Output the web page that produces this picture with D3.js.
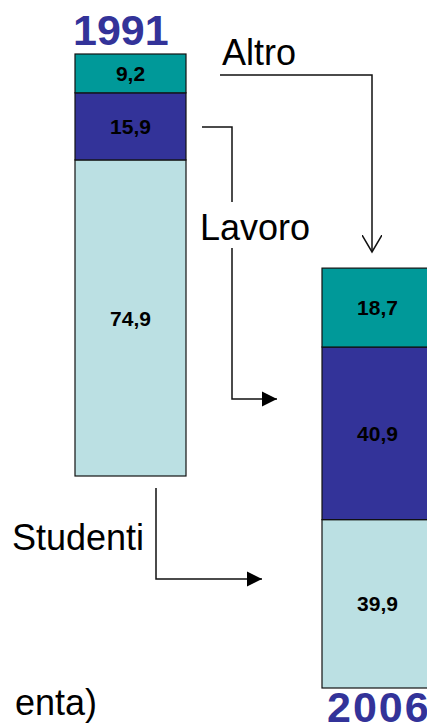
<!DOCTYPE html>
<html>
<head>
<meta charset="utf-8">
<script src="https://cdn.jsdelivr.net/npm/d3@7"></script>
<style>
    body { margin: 0; background: #fff; overflow: hidden; }
    svg { display: block; font-family: "Liberation Sans", Arial, sans-serif; }
</style>
</head>
<body>
<svg id="chart" width="427" height="728"></svg>
<script>
// data, bottom segment first
var years = ["1991", "2006"];
var categories = ["Studenti", "Lavoro", "Altro"];
var values1991 = [74.9, 15.9, 9.2];
var values2006 = [39.9, 40.9, 18.7];
var valueLabels1991 = ["74,9", "15,9", "9,2"];
var valueLabels2006 = ["39,9", "40,9", "18,7"];

var colors = { "Altro": "#009999", "Lavoro": "#333399", "Studenti": "#bbe0e3" };

var svg = d3.select("#chart");

// each bar sits on its own baseline
var barBottom = { "1991": 476, "2006": 688 };

var x = d3.scaleBand()
    .domain(years)
    .range([75, 433])
    .paddingInner(0.5506);

var h = d3.scaleLinear()
    .domain([0, 100])
    .range([0, 422]);

var rows = years.map(function (yr, i) {
    var vals = i === 0 ? values1991 : values2006;
    var labs = i === 0 ? valueLabels1991 : valueLabels2006;
    var row = { year: yr, labels: {} };
    categories.forEach(function (c, j) {
        row[c] = vals[j];
        row.labels[c] = labs[j];
    });
    return row;
});

var series = d3.stack().keys(categories)(rows);

var seg = svg.append("g")
    .selectAll("g")
    .data(series)
    .enter().append("g")
    .attr("fill", function (s) { return colors[s.key]; });

seg.selectAll("rect")
    .data(function (s) {
        return s.map(function (d) { return { key: s.key, d: d }; });
    })
    .enter().append("rect")
    .attr("x", function (o) { return x(o.d.data.year); })
    .attr("width", x.bandwidth())
    .attr("y", function (o) { return barBottom[o.d.data.year] - h(o.d[1]); })
    .attr("height", function (o) { return h(o.d[1]) - h(o.d[0]); })
    .attr("stroke", "#111")
    .attr("stroke-width", 1.2);

seg.selectAll("text")
    .data(function (s) {
        return s.map(function (d) { return { key: s.key, d: d }; });
    })
    .enter().append("text")
    .attr("x", function (o) { return x(o.d.data.year) + x.bandwidth() / 2; })
    .attr("y", function (o) { return barBottom[o.d.data.year] - h((o.d[0] + o.d[1]) / 2); })
    .attr("dy", "0.36em")
    .attr("text-anchor", "middle")
    .attr("fill", "#000")
    .attr("font-weight", "bold")
    .attr("font-size", 21)
    .text(function (o) { return o.d.data.labels[o.key]; });

// year titles
svg.append("text")
    .attr("x", 73).attr("y", 45)
    .attr("font-size", 43).attr("font-weight", "bold")
    .attr("fill", "#333399")
    .text(years[0]);

svg.append("text")
    .attr("x", 327).attr("y", 722)
    .attr("font-size", 43).attr("font-weight", "bold")
    .attr("letter-spacing", 2)
    .attr("fill", "#333399")
    .text(years[1]);

// arrow heads
var defs = svg.append("defs");
defs.append("marker")
    .attr("id", "open")
    .attr("markerUnits", "userSpaceOnUse")
    .attr("viewBox", "0 -10 20 20")
    .attr("refX", 17).attr("refY", 0)
    .attr("markerWidth", 20).attr("markerHeight", 20)
    .attr("orient", "auto")
    .append("path")
    .attr("d", "M0,-10L17,0L0,10")
    .attr("fill", "none")
    .attr("stroke", "#111")
    .attr("stroke-width", 1.5);

defs.append("marker")
    .attr("id", "solid")
    .attr("markerUnits", "userSpaceOnUse")
    .attr("viewBox", "0 -8 16 16")
    .attr("refX", 15).attr("refY", 0)
    .attr("markerWidth", 16).attr("markerHeight", 16)
    .attr("orient", "auto")
    .append("path")
    .attr("d", "M0,-7.5L15,0L0,7.5Z")
    .attr("fill", "#000");

var arrows = [
    { d: "M220,75H372V252", m: "open" },
    { d: "M202,127H232V202", m: null },
    { d: "M232,248V399H277", m: "solid" },
    { d: "M156,488V579H262", m: "solid" }
];

svg.append("g")
    .selectAll("path")
    .data(arrows)
    .enter().append("path")
    .attr("d", function (a) { return a.d; })
    .attr("fill", "none")
    .attr("stroke", "#111")
    .attr("stroke-width", 1.5)
    .attr("marker-end", function (a) { return a.m ? "url(#" + a.m + ")" : null; });

// flow labels
var flowLabels = [
    { t: "Altro", x: 222, y: 65 },
    { t: "Lavoro", x: 200, y: 240 },
    { t: "Studenti", x: 12, y: 550 }
];
svg.append("g")
    .selectAll("text")
    .data(flowLabels)
    .enter().append("text")
    .attr("x", function (d) { return d.x; })
    .attr("y", function (d) { return d.y; })
    .attr("font-size", 36)
    .attr("fill", "#000")
    .text(function (d) { return d.t; });

svg.append("text")
    .attr("x", 97).attr("y", 715)
    .attr("text-anchor", "end")
    .attr("font-size", 36)
    .attr("fill", "#000")
    .text("enta)");
</script>
</body>
</html>
